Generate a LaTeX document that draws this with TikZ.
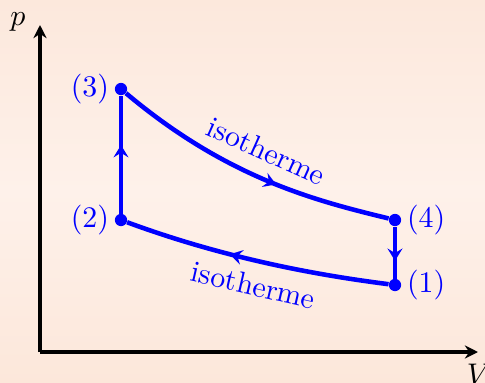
\documentclass[tikz,border=0pt]{standalone}
\usetikzlibrary{arrows.meta,decorations.markings}
\definecolor{bgtop}{HTML}{FCE8DC}
\definecolor{bgmid}{HTML}{FEF1EA}
\definecolor{bgbot}{HTML}{FCE7DA}
\tikzset{
  axis/.style={line width=2pt,-{Stealth[length=7.5pt,width=7.5pt,inset=2.5pt]}},
  cycle/.style={blue,line width=2.6pt},
  dot/.style={circle,fill=blue,inner sep=0pt,minimum size=7pt},
  lbl/.style={text=blue,scale=1.7},
  axlbl/.style={scale=1.7},
  midarrow/.style={postaction={decorate,decoration={markings,
    mark=at position #1 with {\arrow{Stealth[length=7pt,width=8.5pt,inset=2.6pt]}}}}}
}
\begin{document}
\begin{tikzpicture}[x=0.02cm,y=-0.02cm]
\useasboundingbox (0,0) rectangle (485,383);
\shade[top color=bgtop,bottom color=bgbot,middle color=bgmid] (0,0) rectangle (485,383);
% axes
\coordinate (O) at (40,352);
\coordinate (ytop) at (40,25);
\coordinate (xend) at (478,352);
\draw[axis] (O) -- (ytop);
\draw[axis] (O) -- (xend);
\node[axlbl] (plbl) at (18,22) {$p$};
\node[axlbl] (vlbl) at (479,374) {$V$};
% points
\node[dot] (p3) at (121,89) {};
\node[dot] (p2) at (121,220) {};
\node[dot] (p4) at (395,220) {};
\node[dot] (p1) at (395,285) {};
\node[lbl,left=0.5pt] (l3) at (p3) {(3)};
\node[lbl,left=0.5pt] (l2) at (p2) {(2)};
\node[lbl,right=0.5pt] (l4) at (p4) {(4)};
\node[lbl,right=0.5pt] (l1) at (p1) {(1)};
% cycle
\draw[cycle,midarrow=0.58] (p2) -- (p3);
\draw[cycle,midarrow=0.6] (p3) .. controls +(107,90) and +(-78,-19) .. (p4)
  node[lbl,sloped,above,pos=0.45,yshift=1pt] {isotherme};
\draw[cycle,midarrow=0.66] (p4) -- (p1);
\draw[cycle,midarrow=0.6] (p1) .. controls +(-79,-10) and +(103,38) .. (p2)
  node[lbl,sloped,below,pos=0.53] {isotherme};
\end{tikzpicture}
\end{document}
